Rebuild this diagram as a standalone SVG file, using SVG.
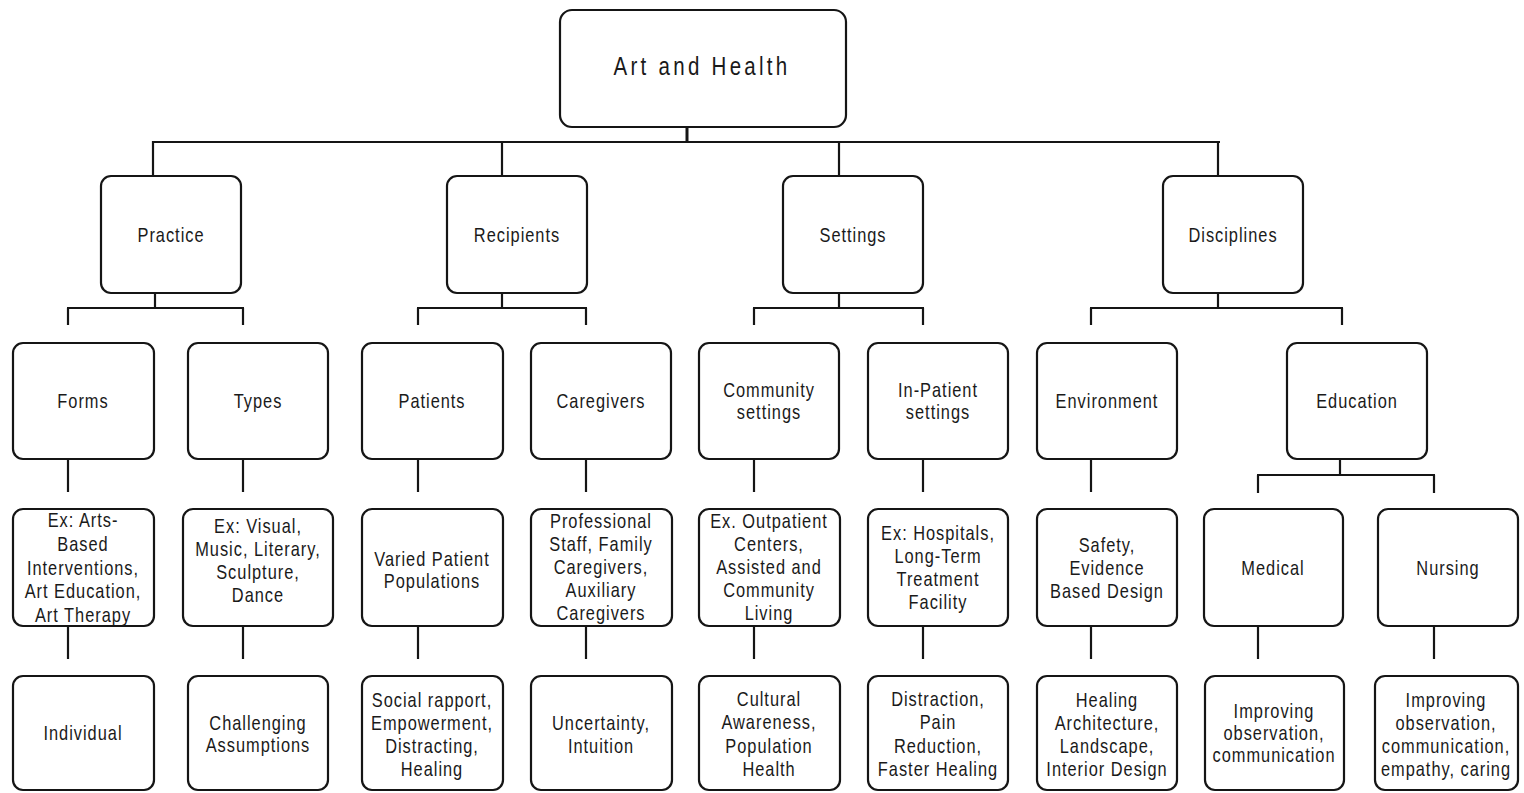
<svg xmlns="http://www.w3.org/2000/svg" width="1524" height="793" viewBox="0 0 1524 793">
<style>
.box{fill:#fff;stroke:#151515;stroke-width:2.2}
.t{font-family:"Liberation Sans",Arial,sans-serif;font-size:20px;letter-spacing:1.2px;fill:#1a1a1a;text-anchor:middle}
.root{font-size:25px;letter-spacing:4px}
.c line{stroke:#151515;stroke-width:2.2}
</style>
<rect width="1524" height="793" fill="#fff"/>
<g class="c" id="connectors">
<line x1="687" y1="105" x2="687" y2="142" style="stroke-width:3"/>
<line x1="152" y1="142" x2="1220" y2="142"/>
<line x1="153" y1="141" x2="153" y2="176"/>
<line x1="502" y1="141" x2="502" y2="176"/>
<line x1="839" y1="141" x2="839" y2="176"/>
<line x1="1218" y1="141" x2="1218" y2="176"/>
<line x1="155" y1="293" x2="155" y2="308"/>
<line x1="67" y1="308" x2="244" y2="308"/>
<line x1="68" y1="308" x2="68" y2="325"/>
<line x1="243" y1="308" x2="243" y2="325"/>
<line x1="502" y1="293" x2="502" y2="308"/>
<line x1="417" y1="308" x2="587" y2="308"/>
<line x1="418" y1="308" x2="418" y2="325"/>
<line x1="586" y1="308" x2="586" y2="325"/>
<line x1="839" y1="293" x2="839" y2="308"/>
<line x1="753" y1="308" x2="924" y2="308"/>
<line x1="754" y1="308" x2="754" y2="325"/>
<line x1="923" y1="308" x2="923" y2="325"/>
<line x1="1218" y1="293" x2="1218" y2="308"/>
<line x1="1090" y1="308" x2="1343" y2="308"/>
<line x1="1091" y1="308" x2="1091" y2="325"/>
<line x1="1342" y1="308" x2="1342" y2="325"/>
<line x1="68" y1="459" x2="68" y2="492"/>
<line x1="243" y1="459" x2="243" y2="492"/>
<line x1="418" y1="459" x2="418" y2="492"/>
<line x1="586" y1="459" x2="586" y2="492"/>
<line x1="754" y1="459" x2="754" y2="492"/>
<line x1="923" y1="459" x2="923" y2="492"/>
<line x1="1091" y1="459" x2="1091" y2="492"/>
<line x1="1340" y1="459" x2="1340" y2="475"/>
<line x1="1257" y1="475" x2="1435" y2="475"/>
<line x1="1258" y1="475" x2="1258" y2="493"/>
<line x1="1434" y1="475" x2="1434" y2="493"/>
<line x1="68" y1="626" x2="68" y2="659"/>
<line x1="243" y1="626" x2="243" y2="659"/>
<line x1="418" y1="626" x2="418" y2="659"/>
<line x1="586" y1="626" x2="586" y2="659"/>
<line x1="754" y1="626" x2="754" y2="659"/>
<line x1="923" y1="626" x2="923" y2="659"/>
<line x1="1091" y1="626" x2="1091" y2="659"/>
<line x1="1258" y1="626" x2="1258" y2="659"/>
<line x1="1434" y1="626" x2="1434" y2="659"/>
</g>
<g id="root"><rect class="box" x="560" y="10" width="286" height="117" rx="12"/><text class="t root" transform="matrix(0.82 0 0 1 702 0)"><tspan x="0" y="75">Art and Health</tspan></text></g>
<g id="practice"><rect class="box" x="101" y="176" width="140" height="117" rx="10"/><text class="t" transform="matrix(0.82 0 0 1 171 0)"><tspan x="0" y="242">Practice</tspan></text></g>
<g id="recipients"><rect class="box" x="447" y="176" width="140" height="117" rx="10"/><text class="t" transform="matrix(0.82 0 0 1 517 0)"><tspan x="0" y="242">Recipients</tspan></text></g>
<g id="settings"><rect class="box" x="783" y="176" width="140" height="117" rx="10"/><text class="t" transform="matrix(0.82 0 0 1 853 0)"><tspan x="0" y="242">Settings</tspan></text></g>
<g id="disciplines"><rect class="box" x="1163" y="176" width="140" height="117" rx="10"/><text class="t" transform="matrix(0.82 0 0 1 1233 0)"><tspan x="0" y="242">Disciplines</tspan></text></g>

<g id="forms"><rect class="box" x="13" y="343" width="141" height="116" rx="10"/><text class="t" transform="matrix(0.82 0 0 1 83 0)"><tspan x="0" y="408">Forms</tspan></text></g>
<g id="types"><rect class="box" x="188" y="343" width="140" height="116" rx="10"/><text class="t" transform="matrix(0.82 0 0 1 258 0)"><tspan x="0" y="408">Types</tspan></text></g>
<g id="patients"><rect class="box" x="362" y="343" width="141" height="116" rx="10"/><text class="t" transform="matrix(0.82 0 0 1 432 0)"><tspan x="0" y="408">Patients</tspan></text></g>
<g id="caregivers"><rect class="box" x="531" y="343" width="140" height="116" rx="10"/><text class="t" transform="matrix(0.82 0 0 1 601 0)"><tspan x="0" y="408">Caregivers</tspan></text></g>
<g id="community"><rect class="box" x="699" y="343" width="140" height="116" rx="10"/><text class="t" transform="matrix(0.82 0 0 1 769 0)"><tspan x="0" y="397">Community</tspan><tspan x="0" y="419">settings</tspan></text></g>
<g id="inpatient"><rect class="box" x="868" y="343" width="140" height="116" rx="10"/><text class="t" transform="matrix(0.82 0 0 1 938 0)"><tspan x="0" y="397">In-Patient</tspan><tspan x="0" y="419">settings</tspan></text></g>
<g id="environment"><rect class="box" x="1037" y="343" width="140" height="116" rx="10"/><text class="t" transform="matrix(0.82 0 0 1 1107 0)"><tspan x="0" y="408">Environment</tspan></text></g>
<g id="education"><rect class="box" x="1287" y="343" width="140" height="116" rx="10"/><text class="t" transform="matrix(0.82 0 0 1 1357 0)"><tspan x="0" y="408">Education</tspan></text></g>

<g id="forms-ex"><rect class="box" x="13" y="509" width="141" height="117" rx="10"/><text class="t" transform="matrix(0.82 0 0 1 83 0)"><tspan x="0" y="527">Ex: Arts-</tspan><tspan x="0" y="551">Based</tspan><tspan x="0" y="575">Interventions,</tspan><tspan x="0" y="598">Art Education,</tspan><tspan x="0" y="622">Art Therapy</tspan></text></g>
<g id="types-ex"><rect class="box" x="183" y="509" width="150" height="117" rx="10"/><text class="t" transform="matrix(0.82 0 0 1 258 0)"><tspan x="0" y="533">Ex: Visual,</tspan><tspan x="0" y="556">Music, Literary,</tspan><tspan x="0" y="579">Sculpture,</tspan><tspan x="0" y="602">Dance</tspan></text></g>
<g id="patients-ex"><rect class="box" x="362" y="509" width="141" height="117" rx="10"/><text class="t" transform="matrix(0.82 0 0 1 432 0)"><tspan x="0" y="566">Varied Patient</tspan><tspan x="0" y="588">Populations</tspan></text></g>
<g id="caregivers-ex"><rect class="box" x="531" y="509" width="141" height="117" rx="10"/><text class="t" transform="matrix(0.82 0 0 1 601 0)"><tspan x="0" y="528">Professional</tspan><tspan x="0" y="551">Staff, Family</tspan><tspan x="0" y="574">Caregivers,</tspan><tspan x="0" y="597">Auxiliary</tspan><tspan x="0" y="620">Caregivers</tspan></text></g>
<g id="community-ex"><rect class="box" x="699" y="509" width="141" height="117" rx="10"/><text class="t" transform="matrix(0.82 0 0 1 769 0)"><tspan x="0" y="528">Ex. Outpatient</tspan><tspan x="0" y="551">Centers,</tspan><tspan x="0" y="574">Assisted and</tspan><tspan x="0" y="597">Community</tspan><tspan x="0" y="620">Living</tspan></text></g>
<g id="inpatient-ex"><rect class="box" x="868" y="509" width="140" height="117" rx="10"/><text class="t" transform="matrix(0.82 0 0 1 938 0)"><tspan x="0" y="540">Ex: Hospitals,</tspan><tspan x="0" y="563">Long-Term</tspan><tspan x="0" y="586">Treatment</tspan><tspan x="0" y="609">Facility</tspan></text></g>
<g id="environment-ex"><rect class="box" x="1037" y="509" width="140" height="117" rx="10"/><text class="t" transform="matrix(0.82 0 0 1 1107 0)"><tspan x="0" y="552">Safety,</tspan><tspan x="0" y="575">Evidence</tspan><tspan x="0" y="598">Based Design</tspan></text></g>
<g id="medical"><rect class="box" x="1204" y="509" width="139" height="117" rx="10"/><text class="t" transform="matrix(0.82 0 0 1 1273 0)"><tspan x="0" y="575">Medical</tspan></text></g>
<g id="nursing"><rect class="box" x="1378" y="509" width="140" height="117" rx="10"/><text class="t" transform="matrix(0.82 0 0 1 1448 0)"><tspan x="0" y="575">Nursing</tspan></text></g>

<g id="individual"><rect class="box" x="13" y="676" width="141" height="114" rx="10"/><text class="t" transform="matrix(0.82 0 0 1 83 0)"><tspan x="0" y="740">Individual</tspan></text></g>
<g id="challenging"><rect class="box" x="188" y="676" width="140" height="114" rx="10"/><text class="t" transform="matrix(0.82 0 0 1 258 0)"><tspan x="0" y="730">Challenging</tspan><tspan x="0" y="752">Assumptions</tspan></text></g>
<g id="social"><rect class="box" x="362" y="676" width="141" height="114" rx="10"/><text class="t" transform="matrix(0.82 0 0 1 432 0)"><tspan x="0" y="707">Social rapport,</tspan><tspan x="0" y="730">Empowerment,</tspan><tspan x="0" y="753">Distracting,</tspan><tspan x="0" y="776">Healing</tspan></text></g>
<g id="uncertainty"><rect class="box" x="531" y="676" width="141" height="114" rx="10"/><text class="t" transform="matrix(0.82 0 0 1 601 0)"><tspan x="0" y="730">Uncertainty,</tspan><tspan x="0" y="753">Intuition</tspan></text></g>
<g id="cultural"><rect class="box" x="699" y="676" width="141" height="114" rx="10"/><text class="t" transform="matrix(0.82 0 0 1 769 0)"><tspan x="0" y="706">Cultural</tspan><tspan x="0" y="729">Awareness,</tspan><tspan x="0" y="753">Population</tspan><tspan x="0" y="776">Health</tspan></text></g>
<g id="distraction"><rect class="box" x="868" y="676" width="140" height="114" rx="10"/><text class="t" transform="matrix(0.82 0 0 1 938 0)"><tspan x="0" y="706">Distraction,</tspan><tspan x="0" y="729">Pain</tspan><tspan x="0" y="753">Reduction,</tspan><tspan x="0" y="776">Faster Healing</tspan></text></g>
<g id="healing"><rect class="box" x="1037" y="676" width="140" height="114" rx="10"/><text class="t" transform="matrix(0.82 0 0 1 1107 0)"><tspan x="0" y="707">Healing</tspan><tspan x="0" y="730">Architecture,</tspan><tspan x="0" y="753">Landscape,</tspan><tspan x="0" y="776">Interior Design</tspan></text></g>
<g id="improving-med"><rect class="box" x="1205" y="676" width="139" height="114" rx="10"/><text class="t" transform="matrix(0.82 0 0 1 1274 0)"><tspan x="0" y="718">Improving</tspan><tspan x="0" y="740">observation,</tspan><tspan x="0" y="762">communication</tspan></text></g>
<g id="improving-nurs"><rect class="box" x="1375" y="676" width="143" height="114" rx="10"/><text class="t" transform="matrix(0.82 0 0 1 1446 0)"><tspan x="0" y="707">Improving</tspan><tspan x="0" y="730">observation,</tspan><tspan x="0" y="753">communication,</tspan><tspan x="0" y="776">empathy, caring</tspan></text></g>
</svg>
